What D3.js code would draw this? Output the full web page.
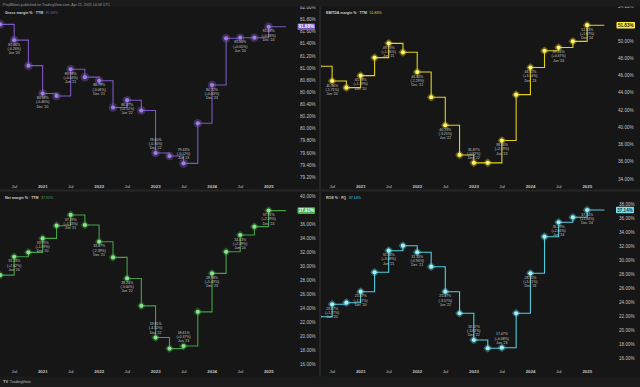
<!DOCTYPE html>
<html><head><meta charset="utf-8">
<script src="https://cdn.jsdelivr.net/npm/d3@7"></script>
<style>html,body{margin:0;padding:0;background:#161616;overflow:hidden}svg{display:block}</style>
</head><body><svg id="c" width="640" height="387"></svg>
<script>
// ---------------- DATA ----------------
const headerText = "ProjMkties published on TradingView.com, Apr 21, 2025 14:08 UTC";
const asOfDate = "2025-04-21";
const quarterLabels = ["Mar '20","Jun '20","Sep '20","Dec '20","Mar '21","Jun '21","Sep '21","Dec '21","Mar '22","Jun '22","Sep '22","Dec '22","Mar '23","Jun '23","Sep '23","Dec '23","Mar '24","Jun '24","Sep '24","Dec '24"];
const quarterDates = ["2020-03-31","2020-06-30","2020-09-30","2020-12-31","2021-03-31","2021-06-30","2021-09-30","2021-12-31","2022-03-31","2022-06-30","2022-09-30","2022-12-31","2023-03-31","2023-06-30","2023-09-30","2023-12-31","2024-03-31","2024-06-30","2024-09-30","2024-12-31"];
const grossMargin  = [81.72,81.46,81.04,80.58,80.54,80.98,80.85,80.79,80.35,80.47,80.30,79.60,79.55,79.43,80.09,80.72,81.49,81.50,81.50,81.68];
const ebitdaMargin = [47.07,45.36,44.59,45.98,48.07,49.73,48.69,46.40,43.48,40.23,36.79,35.87,35.87,38.46,43.78,46.92,48.87,49.24,49.96,51.83];
const netMargin    = [28.71,31.33,31.96,33.95,35.76,37.29,35.86,33.47,31.24,28.24,24.33,19.81,18.24,18.61,23.47,28.96,32.04,34.43,35.62,37.91];
const roe          = [21.90,23.67,23.90,25.47,28.24,31.33,32.04,31.10,29.04,25.47,22.39,18.57,17.39,17.47,22.39,28.10,33.33,35.39,36.10,37.14];
const grossTicks  = [79.2,79.4,79.6,79.8,80.0,80.2,80.4,80.6,80.8,81.0,81.2,81.4,81.6,81.8,82.0];
const ebitdaTicks = [34,36,38,40,42,44,46,48,50,52,54];
const netTicks    = [16,18,20,22,24,26,28,30,32,34,36,38,40];
const roeTicks    = [16,18,20,22,24,26,28,30,32,34,36,38];
const panelTitles = ["Gross margin % \u00b7 TTM","EBITDA margin % \u00b7 TTM","Net margin % \u00b7 TTM","ROE % \u00b7 FQ"];

// ---------------- LAYOUT ----------------
const svg = d3.select("#c");
const FONT = "'Liberation Sans', Arial, sans-serif";
svg.append("rect").attr("width",640).attr("height",387).attr("fill","#161616");
svg.append("rect").attr("x",0).attr("y",0).attr("width",640).attr("height",6.5).attr("fill","#1b1b1b");
svg.append("rect").attr("x",0).attr("y",376.5).attr("width",640).attr("height",10.5).attr("fill","#1b1b1b");
svg.append("text").attr("x",3).attr("y",6).attr("font-family",FONT).attr("font-size",3.6)
  .attr("fill","#9a9a9a").text(headerText);

const parse = d3.timeParse("%Y-%m-%d");
const dates = quarterDates.map(parse);
const asOf = parse(asOfDate);

const panels = [
  {values:grossMargin, ticks:grossTicks, title:panelTitles[0], x0:0, x1:293, top:6.5, bottom:181, xa:42.8, xb:268.8,
   yd:[79.2,81.8], yr:[177.3,19.5], axisX:300, boxX:297.5, boxW:17.5, xLabY:187.5,
   line:"#7e57c2", pt:"#9c7fe0", halo:"#7e57c2", haloShape:"circle", box:"#7e57c2", boxText:"#ffffff", titleVal:"#7e57c2"},
  {values:ebitdaMargin, ticks:ebitdaTicks, title:panelTitles[1], x0:321, x1:612, top:6.5, bottom:181, xa:360.8, xb:587.3,
   yd:[34,50], yr:[179,41], axisX:618, boxX:616.5, boxW:18.5, xLabY:187.5,
   line:"#e6cf1c", pt:"#fff176", halo:"#d4c21a", haloShape:"diamond", box:"#ffeb3b", boxText:"#1a1a1a", titleVal:"#e6d33a"},
  {values:netMargin, ticks:netTicks, title:panelTitles[2], x0:0, x1:293, top:191.5, bottom:367, xa:42.8, xb:268.8,
   yd:[16,36], yr:[364.3,224], axisX:300, boxX:297.5, boxW:17.5, xLabY:372.5,
   line:"#43a047", pt:"#8be38e", halo:"#43a047", haloShape:"diamond", box:"#4caf50", boxText:"#ffffff", titleVal:"#4caf50"},
  {values:roe, ticks:roeTicks, title:panelTitles[3], x0:321, x1:612, top:191.5, bottom:367, xa:360.8, xb:587.3,
   yd:[16,36], yr:[358,218], axisX:619, boxX:616, boxW:18, xLabY:372.5,
   line:"#4dd0e1", pt:"#b2ebf2", halo:"#4dd0e1", haloShape:"diamond", box:"#80deea", boxText:"#1a3a40", titleVal:"#4dd0e1"}
];

panels.forEach((p, pi) => {
  const x = d3.scaleTime().domain([new Date(2021,0,1), new Date(2025,0,1)]).range([p.xa, p.xb]);
  const y = d3.scaleLinear().domain(p.yd).range(p.yr);
  const clipId = "clip" + pi;
  svg.append("clipPath").attr("id", clipId).append("rect")
    .attr("x", p.x0).attr("y", p.top).attr("width", p.x1 - p.x0).attr("height", p.bottom - p.top);
  const axClip = "axclip" + pi;
  svg.append("clipPath").attr("id", axClip).append("rect")
    .attr("x", p.x1).attr("y", p.top).attr("width", 27).attr("height", p.bottom - p.top);

  const g = svg.append("g").attr("clip-path", `url(#${clipId})`);

  const pts = p.values.map((v, i) => ({d: dates[i], v, label: quarterLabels[i], i}));
  const lineData = pts.concat([{d: asOf, v: p.values[p.values.length-1]}]);
  g.append("path").datum(lineData)
    .attr("fill","none").attr("stroke", p.line).attr("stroke-width", 1.1)
    .attr("d", d3.line().x(d => x(d.d)).y(d => y(d.v)).curve(d3.curveStepAfter));

  const haloSym = d3.symbol().type(d3.symbolSquare).size(42);
  pts.forEach(d => {
    const cx = x(d.d), cy = y(d.v);
    if (p.haloShape === "circle") {
      g.append("circle").attr("cx", cx).attr("cy", cy).attr("r", 4.3).attr("fill", p.halo).attr("opacity", 0.4);
    } else {
      g.append("path").attr("d", haloSym()).attr("transform", `translate(${cx},${cy}) rotate(45)`)
        .attr("fill", p.halo).attr("opacity", 0.32);
      g.append("circle").attr("cx", cx).attr("cy", cy).attr("r", 3.6).attr("fill", p.halo).attr("opacity", 0.18);
    }
    g.append("circle").attr("cx", cx).attr("cy", cy).attr("r", 2.1).attr("fill", p.pt);
  });

  const plotH = p.bottom - p.top;
  pts.filter(d => d.i % 2 === 1).forEach(d => {
    const cx = x(d.d), cy = y(d.v);
    const ch = d.v - p.values[d.i - 1];
    const lines = [d.v.toFixed(2) + "%", "(" + (ch >= 0 ? "+" : "") + ch.toFixed(2) + "%)", d.label];
    const above = (cy - p.top) / plotH > 0.8;
    lines.forEach((t, k) => {
      const yy = above ? cy - 3.9 - (2 - k) * 4.2 : cy + 5.6 + k * 4.2;
      g.append("text").attr("x", cx).attr("y", yy).attr("text-anchor","middle")
        .attr("font-family", FONT).attr("font-size", 3.5).attr("fill","#c9c9c9").text(t);
    });
  });

  const last = p.values[p.values.length - 1];
  const ag = svg.append("g").attr("clip-path", `url(#${axClip})`);
  p.ticks.filter(t => Math.abs(y(t) - y(last)) > 3.5).forEach(t => {
    ag.append("text").attr("x", p.axisX).attr("y", y(t) + 1.6)
      .attr("font-family", FONT).attr("font-size", 4.6).attr("fill","#c3c3c3").text(t.toFixed(2) + "%");
  });
  ag.append("rect").attr("x", p.boxX).attr("y", y(last) - 3.3).attr("width", p.boxW).attr("height", 6.6)
    .attr("rx", 0.8).attr("fill", p.box);
  ag.append("text").attr("x", p.boxX + p.boxW / 2).attr("y", y(last) + 1.6).attr("text-anchor","middle")
    .attr("font-family", FONT).attr("font-size", 4.6).attr("font-weight","bold").attr("fill", p.boxText)
    .text(last.toFixed(2) + "%");

  const tks = d3.timeMonth.every(6).range(x.invert(p.x0 + 4), x.invert(p.x1 - 4));
  tks.forEach(t => {
    const isYear = t.getMonth() === 0;
    svg.append("text").attr("x", x(t)).attr("y", p.xLabY).attr("text-anchor","middle")
      .attr("font-family", FONT).attr("font-size", 4.4).attr("font-weight", isYear ? "bold" : "normal")
      .attr("fill","#c3c3c3").text(isYear ? d3.timeFormat("%Y")(t) : d3.timeFormat("%b")(t));
  });

  const tt = svg.append("text").attr("x", p.x0 + 5).attr("y", p.top + 7.2)
    .attr("font-family", FONT).attr("font-size", 3.6).attr("fill","#cfcfcf");
  tt.append("tspan").attr("font-weight","bold").text(p.title);
  tt.append("tspan").attr("dx", 2.5).attr("fill", p.titleVal).text(last.toFixed(2) + "%");
});

svg.append("rect").attr("x",319).attr("y",6.5).attr("width",2).attr("height",370).attr("fill","#262626");
svg.append("rect").attr("x",0).attr("y",189.5).attr("width",640).attr("height",2).attr("fill","#262626");

const ft = svg.append("text").attr("x",3).attr("y",383.3).attr("font-family",FONT).attr("font-size",3.8).attr("fill","#bdbdbd");
ft.append("tspan").attr("font-weight","bold").attr("font-size",4.2).text("TV");
ft.append("tspan").attr("dx",1.5).text("TradingView");
</script></body></html>
